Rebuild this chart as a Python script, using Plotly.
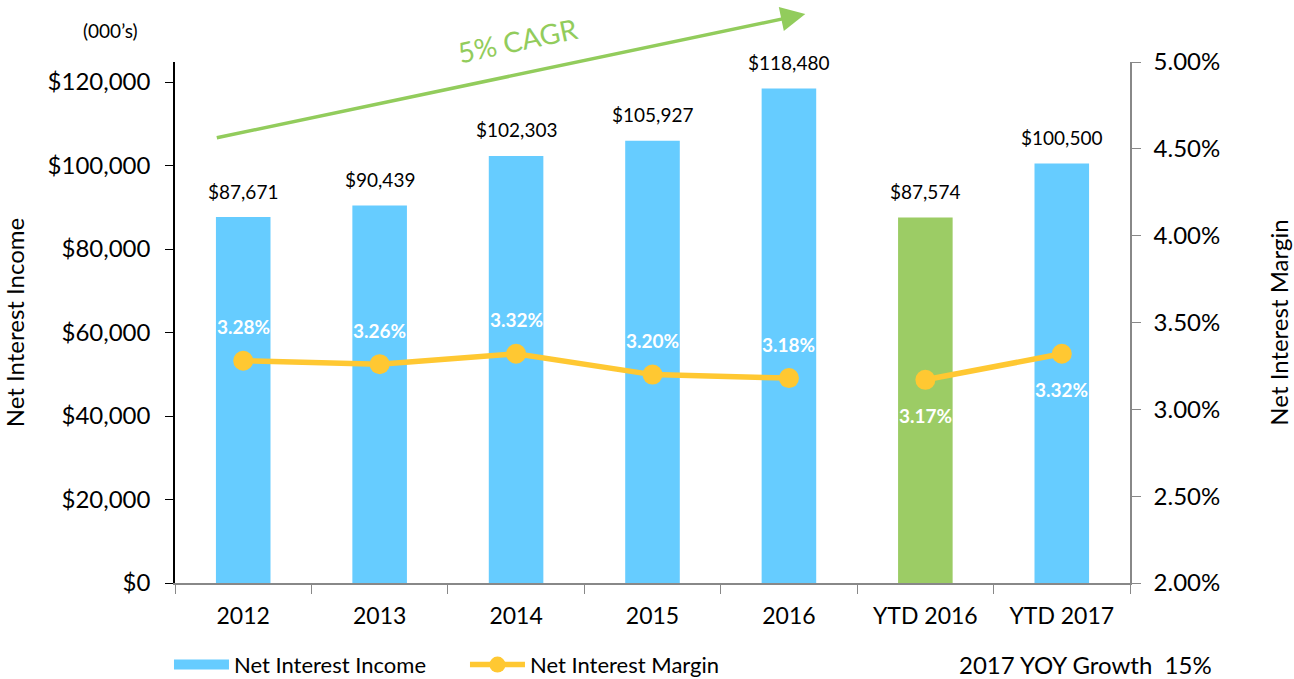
import plotly.graph_objects as go

categories = ["2012", "2013", "2014", "2015", "2016", "YTD 2016", "YTD 2017"]
net_interest_income = [87671, 90439, 102303, 105927, 118480, 87574, 100500]
net_interest_margin = [0.0328, 0.0326, 0.0332, 0.0320, 0.0318, 0.0317, 0.0332]
margin_label_pos = ["above", "above", "above", "above", "above", "below", "below"]
annual_count = 5  # first five are full years; margin line is broken before YTD

BLUE = "#66CCFF"
GREEN_BAR = "#9CCC65"
YELLOW = "#FFC832"
ARROW_GREEN = "#92CC5C"
FONT = "Lato"

bar_colors = [BLUE] * annual_count + [GREEN_BAR, BLUE]

fig = go.Figure()
# legend-only entry giving a wide rectangular swatch for the bars
fig.add_trace(go.Scatter(
    x=[None], y=[None], mode="lines", name="Net Interest Income",
    line=dict(color=BLUE, width=15), hoverinfo="skip",
))
fig.add_trace(go.Bar(
    x=categories, y=net_interest_income, name="Net Interest Income", showlegend=False,
    marker=dict(color=bar_colors, line=dict(width=0)), width=0.4,
))
fig.add_trace(go.Scatter(
    x=categories[:annual_count], y=net_interest_margin[:annual_count],
    name="Net Interest Margin", yaxis="y2", mode="lines+markers",
    line=dict(color=YELLOW, width=5.5), marker=dict(size=20, color=YELLOW),
))
fig.add_trace(go.Scatter(
    x=categories[annual_count:], y=net_interest_margin[annual_count:],
    name="Net Interest Margin", yaxis="y2", mode="lines+markers", showlegend=False,
    line=dict(color=YELLOW, width=5.5), marker=dict(size=20, color=YELLOW),
))

annotations = []
for i, v in enumerate(net_interest_income):
    annotations.append(dict(x=i, y=v, xref="x", yref="y", text=f"${v:,.0f}",
                            showarrow=False, yshift=26,
                            font=dict(family=FONT, size=19, color="#000000")))
for i, (m, pos) in enumerate(zip(net_interest_margin, margin_label_pos)):
    annotations.append(dict(x=i, y=m, xref="x", yref="y2", text=f"<b>{m*100:.2f}%</b>",
                            showarrow=False, yshift=34 if pos == "above" else -36,
                            font=dict(family=FONT, size=19, color="#FFFFFF")))

# CAGR arrow and text
annotations.append(dict(x=0.660, y=1.092, xref="paper", yref="paper", ax=-590, ay=124,
                        axref="pixel", ayref="pixel", text="", showarrow=True,
                        arrowhead=2, arrowsize=1.4, arrowwidth=3.5, arrowcolor=ARROW_GREEN))
annotations.append(dict(x=0.359, y=1.042, xref="paper", yref="paper", text="5% CAGR",
                        showarrow=False, textangle=-12, xanchor="center", yanchor="middle",
                        font=dict(family=FONT, size=28, color=ARROW_GREEN)))
annotations.append(dict(x=-0.068, y=1.061, xref="paper", yref="paper", text="(000’s)",
                        showarrow=False, xanchor="center", yanchor="middle",
                        font=dict(family=FONT, size=19, color="#000000")))
annotations.append(dict(x=0.953, y=-0.157, xref="paper", yref="paper",
                        text="2017 YOY Growth  15%", showarrow=False,
                        xanchor="center", yanchor="middle",
                        font=dict(family=FONT, size=24, color="#000000")))

fig.update_layout(
    width=1294, height=679,
    margin=dict(l=175, r=164, t=62, b=96, autoexpand=False),
    paper_bgcolor="white", plot_bgcolor="white",
    font=dict(family=FONT, color="#000000"),
    showlegend=True,
    legend=dict(orientation="h", x=-0.0063, y=-0.157, xanchor="left", yanchor="middle",
                font=dict(family=FONT, size=22), entrywidth=226, itemwidth=55,
                traceorder="normal"),
    xaxis=dict(type="category", range=[-0.5, 6.5], showline=True, linecolor="#888888",
               linewidth=1.5, ticks="outside", tickson="boundaries", ticklen=9,
               tickcolor="#888888", tickfont=dict(family=FONT, size=23), tickangle=0,
               ticklabelstandoff=12,
               showgrid=False, zeroline=False, automargin=False),
    yaxis=dict(range=[0, 124800], tickvals=[0, 20000, 40000, 60000, 80000, 100000, 120000],
               tickformat="$,.0f", showline=True, linecolor="#000000", linewidth=1.5,
               ticks="outside", ticklen=8, tickcolor="#000000", showgrid=False, zeroline=False,
               tickfont=dict(family=FONT, size=24), automargin=False, ticklabelstandoff=10,
               title=dict(text="Net Interest Income", font=dict(family=FONT, size=24), standoff=27)),
    yaxis2=dict(range=[0.02, 0.05], overlaying="y", side="right",
                tickvals=[0.02, 0.025, 0.03, 0.035, 0.04, 0.045, 0.05], tickformat=".2%",
                showline=True, linecolor="#888888", linewidth=1.5, ticks="outside",
                ticklen=9, tickcolor="#888888", showgrid=False, zeroline=False,
                tickfont=dict(family=FONT, size=24), automargin=False, ticklabelstandoff=8,
                title=dict(text="Net Interest Margin", font=dict(family=FONT, size=24), standoff=52)),
    annotations=annotations,
)

fig.write_html("out.html", config={"displayModeBar": False},
               post_script="document.body.style.margin='0px';")
